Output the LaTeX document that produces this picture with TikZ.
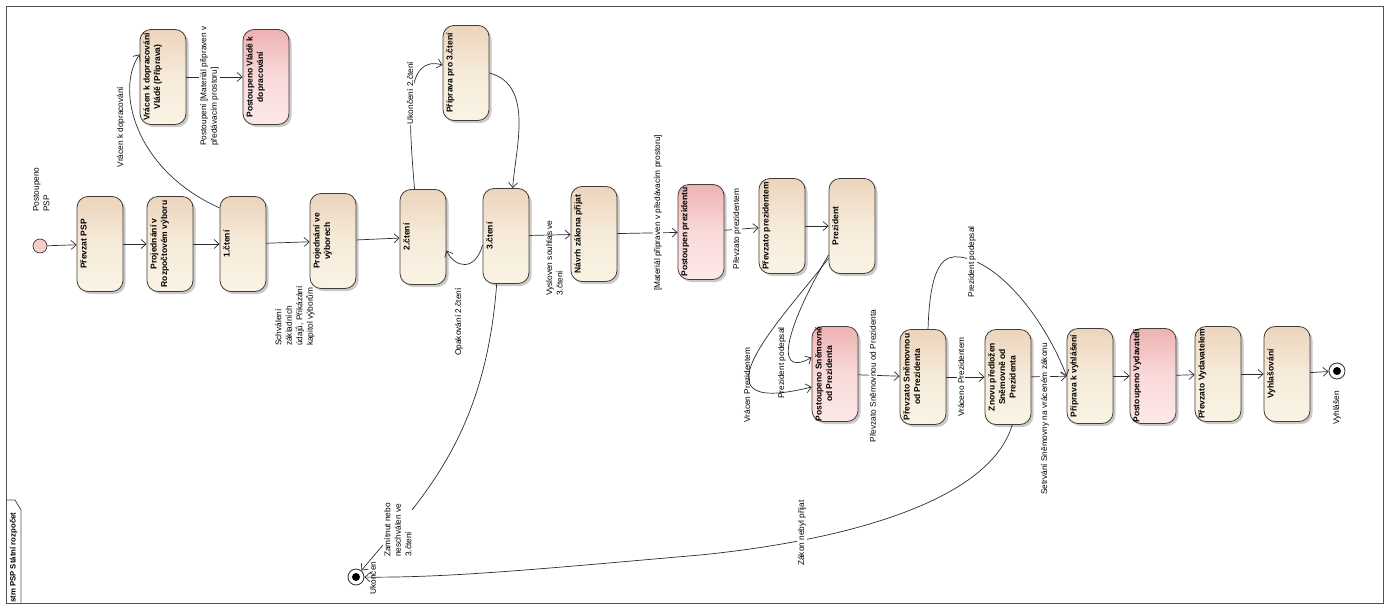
\documentclass[tikz,border=0pt]{standalone}
\usepackage{fontspec}
\setmainfont{Liberation Sans}
\usetikzlibrary{arrows.meta,shadows,calc}
\definecolor{bdr}{RGB}{70,60,55}
\definecolor{btop}{RGB}{236,212,188}
\definecolor{bmid}{RGB}{246,235,218}
\definecolor{bbot}{RGB}{250,244,228}
\definecolor{ptop}{RGB}{238,178,178}
\definecolor{pmid}{RGB}{250,218,218}
\definecolor{pbot}{RGB}{252,232,232}
\definecolor{lnc}{RGB}{45,45,45}
\definecolor{initc}{RGB}{246,205,205}
\definecolor{framec}{RGB}{80,80,80}
\begin{document}
\begin{tikzpicture}[x=1pt,y=-1pt,
  box/.style={draw=bdr, line width=0.8pt, rounded corners=11pt, minimum width=46pt, minimum height=95pt, inner sep=0pt,
    top color=btop, bottom color=bbot, middle color=bmid,
    drop shadow={shadow xshift=2.5pt, shadow yshift=-2.5pt, opacity=0.35, fill=black!60}},
  pbox/.style={box, top color=ptop, bottom color=pbot, middle color=pmid},
  btxt/.style={rotate=90, anchor=north, align=center, font=\fontsize{8.5}{10.5}\selectfont\bfseries, inner sep=1.5pt},
  elbl/.style={rotate=90, font=\fontsize{8.3}{10.5}\selectfont, inner sep=1pt, fill=white},
  flbl/.style={rotate=90, font=\fontsize{8.3}{10.5}\selectfont, inner sep=1pt},
  conn/.style={draw=lnc, line width=0.7pt, -{Straight Barb[length=5pt,width=9pt]}},
  startnode/.style={circle, draw=bdr, fill=initc, minimum size=14pt, inner sep=0pt, line width=0.7pt},
  endnode/.style={circle, draw=bdr, fill=white, minimum size=16pt, inner sep=0pt, line width=0.9pt},
  enddot/.style={circle, fill=black, minimum size=8pt, inner sep=0pt}
]
\useasboundingbox (0,0) rectangle (1389,605);
% frame
\draw[framec, line width=1pt] (6,6) rectangle (1383,603);
\draw[framec, line width=0.8pt] (6,500) -- (15,500) -- (21,510) -- (21,603);
\node[rotate=90, anchor=west, inner sep=0pt, font=\fontsize{7.8}{9}\selectfont\bfseries] (tabt) at (13.5,603) {stm PSP Státní rozpočet};

% nodes
\node[startnode] (init) at (40,246) {};
\node[flbl, anchor=north west, align=left] (initl) at (32,213) {Postoupeno\\PSP};

\node[box] (prevzat) at (100,244) {};
\node[box] (projR) at (170,244) {};
\node[box] (cteni1) at (243,244) {};
\node[box] (projV) at (333,241) {};
\node[box] (vracen) at (163,77) {};
\node[pbox] (postV) at (266,77) {};
\node[box] (c2) at (423,237) {};
\node[box] (c3) at (506,236) {};
\node[box] (prip3) at (466,73) {};
\node[box] (navrh) at (594,234) {};
\node[pbox] (postP) at (701,232) {};
\node[box] (prevP) at (782,226) {};
\node[box] (prez) at (852,226) {};
\node[pbox] (postS) at (835,374) {};
\node[box] (prevS) at (923,377) {};
\node[box] (znovu) at (1008,377) {};
\node[box] (pripV) at (1090,376) {};
\node[pbox] (postVyd) at (1153,376) {};
\node[box] (prevVyd) at (1218,374) {};
\node[box] (vyhl) at (1287,374) {};

\node[endnode] (fin1) at (356,577) {};
\node[enddot] (fin1d) at (fin1) {};
\node[endnode] (fin2) at (1337,371) {};
\node[enddot] (fin2d) at (fin2) {};

% box texts
\node[btxt] (t1) at ($(prevzat.west)+(2,0)$) {Převzat PSP};
\node[btxt] (t2) at ($(projR.west)+(2,0)$) {Projednání v\\Rozpočtovém výboru};
\node[btxt] (t3) at ($(cteni1.west)+(2,0)$) {1.čtení};
\node[btxt] (t4) at ($(projV.west)+(2,0)$) {Projednání ve\\výborech};
\node[btxt] (t5) at ($(vracen.west)+(2,0)$) {Vrácen k dopracování\\Vládě (Příprava)};
\node[btxt] (t6) at ($(postV.west)+(2,0)$) {Postoupeno Vládě k\\dopracování};
\node[btxt] (t7) at ($(c2.west)+(2,0)$) {2.čtení};
\node[btxt] (t8) at ($(c3.west)+(2,0)$) {3.čtení};
\node[btxt] (t9) at ($(prip3.west)+(2,0)$) {Příprava pro 3.čtení};
\node[btxt] (t10) at ($(navrh.west)+(2,0)$) {Návrh zákona přijat};
\node[btxt] (t11) at ($(postP.west)+(2,0)$) {Postoupen prezidentu};
\node[btxt] (t12) at ($(prevP.west)+(2,0)$) {Převzato prezidentem};
\node[btxt] (t13) at ($(prez.west)+(2,0)$) {Prezident};
\node[btxt] (t14) at ($(postS.west)+(2,0)$) {Postoupeno Sněmovně\\od Prezidenta};
\node[btxt] (t15) at ($(prevS.west)+(2,0)$) {Převzato Sněmovnou\\od Prezidenta};
\node[btxt] (t16) at ($(znovu.west)+(2,0)$) {Znovu předložen\\Sněmovně od\\Prezidenta};
\node[btxt] (t17) at ($(pripV.west)+(2,0)$) {Příprava k vyhlášení};
\node[btxt] (t18) at ($(postVyd.west)+(2,0)$) {Postoupeno Vydavateli};
\node[btxt] (t19) at ($(prevVyd.west)+(2,0)$) {Převzato Vydavatelem};
\node[btxt] (t20) at ($(vyhl.west)+(2,0)$) {Vyhlašování};

% connectors
\draw[conn] (init) -- (prevzat);
\draw[conn] (prevzat) -- (projR);
\draw[conn] (projR) -- (cteni1);
\draw[conn] (cteni1) -- (projV);
\node[flbl, anchor=north west, align=left] (l1) at (274,347) {Schválení\\základních\\údajů, Přikázání\\kapitol výborům};
\draw[conn] (cteni1.123) .. controls (135,170) and (115,90) .. (vracen.136);
\node[flbl] (l2) at (121,127) {Vrácen k dopracování};
\draw[conn] (vracen) -- (postV);
\node[elbl, anchor=north west, align=left] (l3) at (199,147) {Postoupení [Materiál připraven v\\předávacím prostoru]};
\draw[conn] (projV) -- (c2);
\draw[conn] (c2.100) .. controls (408,110) and (405,55) .. (prip3.161);
\node[elbl] (l4) at (410,93) {Ukončení 2.čtení};
\draw[conn] (prip3.east) .. controls (535,85) and (515,150) .. (c3.82);
\draw[conn] (c3.201) .. controls (475,272) and (455,268) .. (c2.330);
\node[flbl] (l5) at (459,322) {Opakování 2.čtení};
\draw[conn] (c3.259) .. controls (485,440) and (420,500) .. (fin1);
\node[elbl, anchor=north west, align=left] (l6) at (383,558) {Zamítnut nebo\\neschválen ve\\3.čtení};
\draw[conn] (c3) -- (navrh);
\node[flbl, anchor=north west, align=left] (l7) at (545,297) {Vysloven souhlas ve\\3.čtení};
\draw[conn] (navrh) -- (postP);
\node[elbl] (l8) at (658,213) {[Materiál připraven v předávacím prostoru]};
\draw[conn] (postP) -- (prevP);
\node[elbl] (l9) at (737,229) {Převzato prezidentem};
\draw[conn] (prevP) -- (prez);
\draw[conn] (prez.234) .. controls (790,310) and (680,420) .. (postS.209);
\draw[conn] (prez.231) .. controls (790,320) and (770,380) .. (postS.145);
\node[flbl] (l10) at (747,385) {Vrácen Prezidentem};
\node[flbl] (l11) at (782,363) {Prezident podepsal};
\draw[conn] (postS) -- (prevS);
\node[elbl] (l12) at (873,376) {Převzato Sněmovnou od Prezidenta};
\draw[conn] (prevS) -- (znovu);
\node[elbl] (l13) at (961,377) {Vráceno Prezidentem};
\draw[conn] (prevS.84) .. controls (930,262) and (945,255) .. (960,257) .. controls (1000,262) and (1045,320) .. (pripV.west);
\node[elbl] (l14) at (972,262) {Prezident podepsal};
\draw[conn] (znovu) -- (pripV);
\node[elbl] (l15) at (1045,419) {Setrvání Sněmovny na vráceném zákonu};
\draw[conn] (znovu.275) .. controls (990,500) and (850,540) .. (700,555) .. controls (550,568) and (450,578) .. (fin1);
\node[elbl] (l16) at (802,533) {Zákon nebyl přijat};
\node[flbl] (l17) at (373,578) {Ukončen};
\draw[conn] (pripV) -- (postVyd);
\draw[conn] (postVyd) -- (prevVyd);
\draw[conn] (prevVyd) -- (vyhl);
\draw[conn] (vyhl) -- (fin2);
\node[flbl] (l18) at (1337,408) {Vyhlášen};
\end{tikzpicture}
\end{document}
